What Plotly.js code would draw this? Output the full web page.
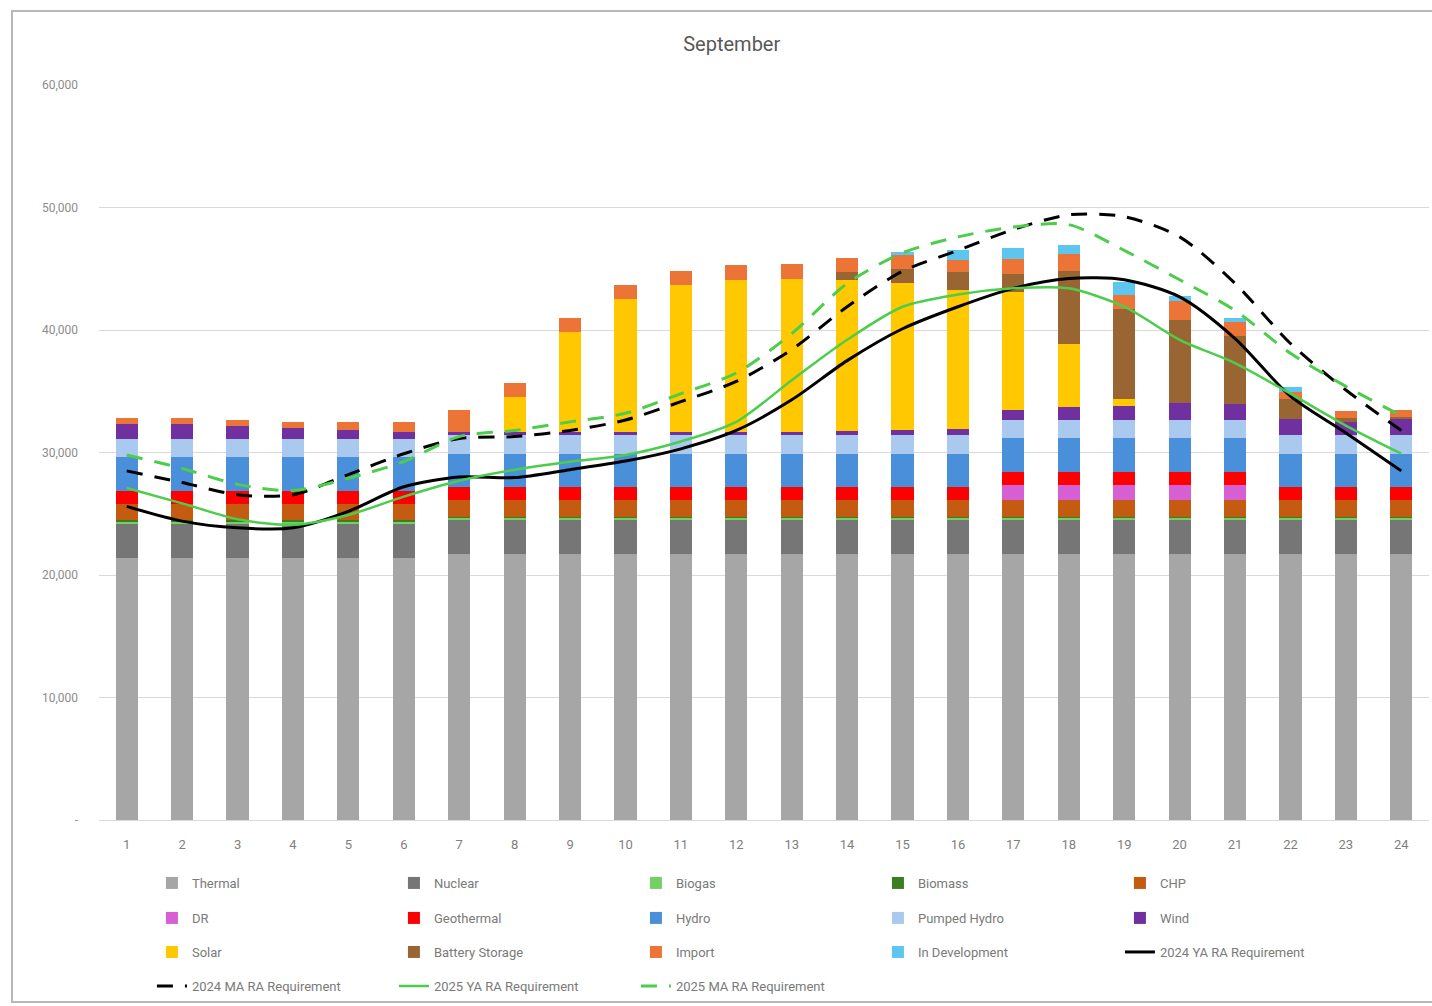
<!DOCTYPE html>
<html>
<head>
<meta charset="utf-8">
<script src="https://cdn.plot.ly/plotly-3.0.1.min.js"></script>
<style>
  html, body { margin: 0; padding: 0; background: #ffffff; overflow: hidden; }
  #chart { position: absolute; left: 0; top: 0; width: 1432px; height: 1006px; }
  #frame { position: absolute; left: 11px; top: 10px; width: 1440px; height: 989px;
           border: 2px solid #b8b8b8; pointer-events: none; }
</style>
</head>
<body>
<div id="chart"></div>
<div id="frame"></div>
<script>
// ---- data (MW) ----
const hours = ['1','2','3','4','5','6','7','8','9','10','11','12','13','14','15','16','17','18','19','20','21','22','23','24'];

const thermal    = [21400,21400,21400,21400,21400,21400,21700,21700,21700,21700,21700,21700,21700,21700,21700,21700,21700,21700,21700,21700,21700,21700,21700,21700];
const nuclear    = [2800,2800,2800,2800,2800,2800,2800,2800,2800,2800,2800,2800,2800,2800,2800,2800,2800,2800,2800,2800,2800,2800,2800,2800];
const biogas     = [150,150,150,150,150,150,150,150,150,150,150,150,150,150,150,150,150,150,150,150,150,150,150,150];
const biomass    = [100,100,100,100,100,100,100,100,100,100,100,100,100,100,100,100,100,100,100,100,100,100,100,100];
const chp        = [1350,1350,1350,1350,1350,1350,1350,1350,1350,1350,1350,1350,1350,1350,1350,1350,1350,1350,1350,1350,1350,1350,1350,1350];
const dr         = [0,0,0,0,0,0,0,0,0,0,0,0,0,0,0,0,1250,1250,1250,1250,1250,0,0,0];
const geothermal = [1050,1050,1050,1050,1050,1050,1050,1050,1050,1050,1050,1050,1050,1050,1050,1050,1050,1050,1050,1050,1050,1050,1050,1050];
const hydro      = [2750,2750,2750,2750,2750,2750,2750,2750,2750,2750,2750,2750,2750,2750,2750,2750,2750,2750,2750,2750,2750,2750,2750,2750];
const pumped     = [1500,1500,1500,1500,1500,1500,1500,1500,1500,1500,1500,1500,1500,1500,1500,1500,1500,1500,1500,1500,1500,1500,1500,1500];
const wind       = [1200,1200,1050,900,700,550,300,300,300,300,300,300,300,350,400,500,850,1100,1150,1400,1300,1350,1100,1350];
const solar      = [0,0,0,0,0,0,0,2850,8150,10800,11950,12400,12450,12350,12000,11350,9600,5100,550,0,0,0,0,0];
const battery    = [0,0,0,0,0,0,0,0,0,0,0,0,0,600,1150,1500,1500,6000,7400,6800,5600,1600,300,150];
const imports    = [500,500,500,500,650,800,1750,1150,1150,1200,1200,1200,1250,1150,1200,950,1200,1350,1100,1500,1100,600,600,550];
const indev      = [0,0,0,0,0,0,0,0,0,0,0,0,0,0,250,850,900,700,1100,400,300,400,0,0];

const ya2024 = [25600,24400,23850,23850,25200,27200,28000,27950,28600,29300,30300,31800,34300,37500,40100,41900,43400,44200,44100,42700,39300,34600,31600,28500];
const ma2024 = [28500,27550,26550,26550,28200,29900,31150,31300,31800,32650,34150,35800,38400,41900,44800,46500,48200,49400,49250,47600,43800,38900,35100,31800];
const ya2025 = [27100,25850,24550,24100,24900,26400,27700,28600,29250,29800,30900,32500,35900,39200,41900,42900,43400,43400,41900,39200,37300,34800,32200,29900];
const ma2025 = [29800,28700,27400,26900,27900,29250,31300,31800,32500,33200,34800,36500,39700,43800,46300,47600,48400,48600,46500,44100,41600,38100,35400,33000];

const yTickVals  = [0,10000,20000,30000,40000,50000,60000];
const yTickText  = ['-','10,000','20,000','30,000','40,000','50,000','60,000'];

// ---- traces ----
const barSeries = [
  ['Thermal', thermal, '#a6a6a6', 'legend'],
  ['Nuclear', nuclear, '#767676', 'legend'],
  ['Biogas', biogas, '#74d064', 'legend'],
  ['Biomass', biomass, '#3b7d23', 'legend'],
  ['CHP', chp, '#c55a11', 'legend'],
  ['DR', dr, '#d65fd3', 'legend2'],
  ['Geothermal', geothermal, '#ff0000', 'legend2'],
  ['Hydro', hydro, '#4a8fd9', 'legend2'],
  ['Pumped Hydro', pumped, '#a9c9ee', 'legend2'],
  ['Wind', wind, '#7030a0', 'legend2'],
  ['Solar', solar, '#ffc800', 'legend3'],
  ['Battery Storage', battery, '#996633', 'legend3'],
  ['Import', imports, '#ec7436', 'legend3'],
  ['In Development', indev, '#5cc6ef', 'legend3']
];

const traces = barSeries.map(([name, vals, color, lg]) => ({
  type: 'bar', name: name, x: hours, y: vals,
  marker: { color: color, line: { width: 0 } },
  legend: lg, hoverinfo: 'name+y'
}));

const lineSeries = [
  ['2024 YA RA Requirement', ya2024, '#000000', 'solid', 3, 'legend3'],
  ['2024 MA RA Requirement', ma2024, '#000000', '16px,12px', 3, 'legend4'],
  ['2025 YA RA Requirement', ya2025, '#4ccd4c', 'solid', 2.5, 'legend4'],
  ['2025 MA RA Requirement', ma2025, '#4ccd4c', '16px,12px', 3, 'legend4']
];
lineSeries.forEach(([name, vals, color, dash, w, lg]) => {
  traces.push({
    type: 'scatter', mode: 'lines', name: name, x: hours, y: vals,
    line: { color: color, dash: dash, width: w, shape: 'spline', smoothing: 0.8 },
    legend: lg
  });
});

// ---- layout ----
const legendFont = { family: 'Roboto, Arial, sans-serif', size: 13, color: '#7a7a7a' };
function mkLegend(y) {
  return {
    orientation: 'h', x: 0.0398, xanchor: 'left', y: y, yanchor: 'middle',
    xref: 'paper', yref: 'paper', traceorder: 'normal',
    entrywidth: 197, entrywidthmode: 'pixels',
    font: legendFont, bgcolor: 'rgba(0,0,0,0)', borderwidth: 0
  };
}

const layout = {
  width: 1432, height: 1006,
  margin: { l: 99, r: 3, t: 85, b: 186 },
  paper_bgcolor: '#ffffff', plot_bgcolor: '#ffffff',
  barmode: 'stack', bargap: 0.6,
  font: { family: 'Roboto, Arial, sans-serif', color: '#7f7f7f' },
  title: {
    text: 'September', xref: 'container', x: 0.511, xanchor: 'center',
    yref: 'container', y: 0.956, yanchor: 'middle',
    font: { family: 'Roboto, Arial, sans-serif', size: 20, color: '#595959' }
  },
  xaxis: {
    type: 'category', tickvals: hours, ticktext: hours,
    showgrid: false, showline: true, linecolor: '#d9d9d9', linewidth: 1,
    ticks: '', tickfont: { size: 13, color: '#7f7f7f' }, ticklabelstandoff: 12,
    zeroline: false
  },
  yaxis: {
    range: [0, 60000], tickvals: yTickVals, ticktext: yTickText,
    showgrid: true, gridcolor: '#d9d9d9', gridwidth: 1,
    zeroline: false, showline: false, ticks: '',
    tickfont: { size: 12, color: '#8c8c8c' }, ticklabelstandoff: 20
  },
  legend:  mkLegend(-0.0857),
  legend2: mkLegend(-0.1333),
  legend3: mkLegend(-0.1796),
  legend4: mkLegend(-0.2259),
  showlegend: true
};

Plotly.newPlot('chart', traces, layout, { displayModeBar: false, staticPlot: true });
</script>
</body>
</html>
